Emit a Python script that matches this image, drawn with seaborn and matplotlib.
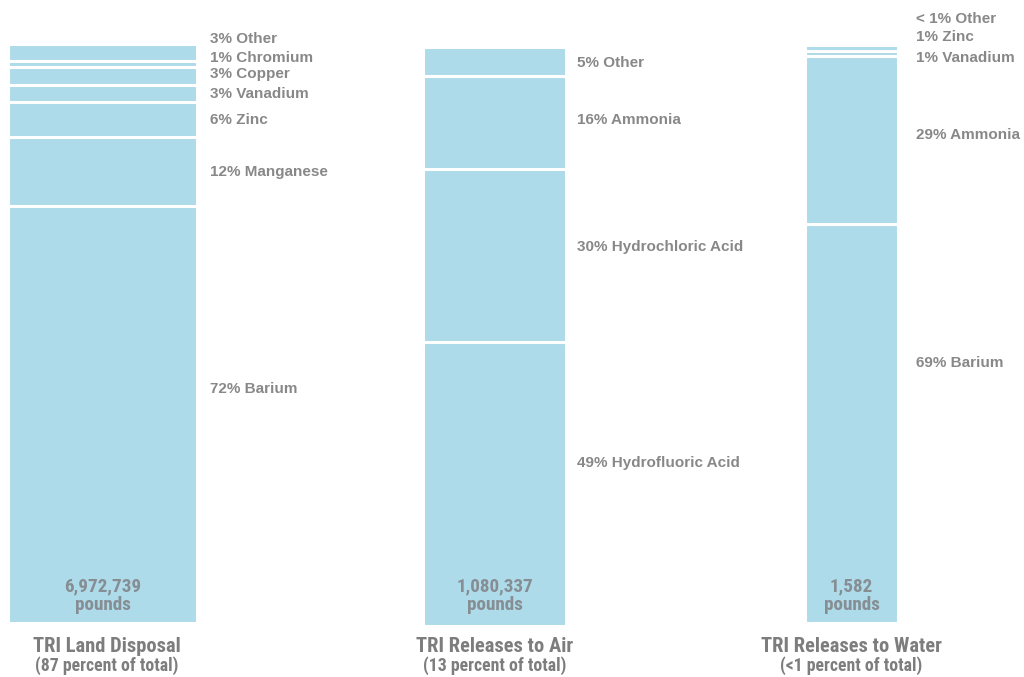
import numpy as np
import pandas as pd
import matplotlib
matplotlib.use("Agg")
import matplotlib.pyplot as plt
import seaborn as sns
from matplotlib import font_manager

sns.set_theme(style="white")

# ---- data -------------------------------------------------------------
release_types = ["TRI Land Disposal", "TRI Releases to Air", "TRI Releases to Water"]
release_shares = ["(87 percent of total)", "(13 percent of total)", "(<1 percent of total)"]
release_pounds = ["6,972,739", "1,080,337", "1,582"]

# chemicals listed from the bottom of each stack to the top
land_chemicals = ["Barium", "Manganese", "Zinc", "Vanadium", "Copper", "Chromium", "Other"]
land_percent = [72, 12, 6, 3, 3, 1, 3]

air_chemicals = ["Hydrofluoric Acid", "Hydrochloric Acid", "Ammonia", "Other"]
air_percent = [49, 30, 16, 5]

water_chemicals = ["Barium", "Ammonia", "Vanadium", "Zinc", "Other"]
water_percent = [69, 29, 1, 1, 0.5]

stacks = [
    (land_chemicals, land_percent),
    (air_chemicals, air_percent),
    (water_chemicals, water_percent),
]

# ---- layout (pixels on a 1024 x 677 canvas) ----------------------------
W, H = 1024, 677
bar_boxes = [  # left, right, top, bottom
    (8, 197, 44, 623),
    (423, 566, 47, 626),
    (805, 898, 42, 623),
]
label_x = [210, 577, 916]
label_baselines = [
    [393, 176, 124, 98, 78, 62, 43],
    [467, 251, 124, 67],
    [367, 139, 62, 41, 23],
]

BAR_COLOR = "#aedbea"
LABEL_COLOR = "#888888"
VALUE_COLOR = "#868d93"
TITLE_COLOR = "#7d7d7d"


def pick_font(candidates):
    for name in candidates:
        try:
            font_manager.findfont(font_manager.FontProperties(family=name),
                                  fallback_to_default=False)
            return name
        except Exception:
            continue
    return "DejaVu Sans"


label_font = pick_font(["Liberation Sans", "Arial", "DejaVu Sans"])
narrow_font = pick_font(["Liberation Sans Narrow", "DejaVu Sans Condensed", "Roboto Condensed", "Liberation Sans"])

fig = plt.figure(figsize=(W / 100, H / 100), dpi=100)
fig.patch.set_facecolor("white")

for (chems, pcts), (l, r, t, b) in zip(stacks, bar_boxes):
    total = float(np.sum(pcts))
    ax = fig.add_axes([l / W, 1 - b / H, (r - l) / W, (b - t) / H])
    df = pd.DataFrame({"chemical": chems, "percent": pcts})
    df["bottom"] = df["percent"].cumsum() - df["percent"]
    for _, row in df.iterrows():
        sns.barplot(
            x=[0.0], y=[row["percent"]], bottom=row["bottom"],
            native_scale=True, orient="x", width=1.0, errorbar=None,
            color=BAR_COLOR, saturation=1, edgecolor="white", linewidth=2.2,
            ax=ax,
        )
    ax.set_xlim(-0.5, 0.5)
    ax.set_ylim(0, total)
    ax.set_axis_off()

# text overlay in pixel coordinates
ov = fig.add_axes([0, 0, 1, 1])
ov.set_xlim(0, W)
ov.set_ylim(H, 0)
ov.set_axis_off()
ov.patch.set_alpha(0)

for i, (chems, pcts) in enumerate(stacks):
    for chem, p, yb in zip(chems, pcts, label_baselines[i]):
        pct_txt = "< 1%" if p < 1 else f"{p:g}%"
        ov.text(label_x[i], yb, f"{pct_txt} {chem}", ha="left", va="baseline",
                fontsize=11, fontweight="bold", color=LABEL_COLOR,
                family=label_font)

    l, r, t, b = bar_boxes[i]
    cx = (l + r) / 2
    ov.text(cx, 591, release_pounds[i], ha="center", va="baseline",
            fontsize=13.8, fontweight="bold", color=VALUE_COLOR, family=narrow_font)
    ov.text(cx, 610, "pounds", ha="center", va="baseline",
            fontsize=13.8, fontweight="bold", color=VALUE_COLOR, family=narrow_font)
    tx = cx + (4 if i == 0 else 0)
    ov.text(tx, 652, release_types[i], ha="center", va="baseline",
            fontsize=14.8, fontweight="bold", color=TITLE_COLOR, family=narrow_font)
    ov.text(tx, 671, release_shares[i], ha="center", va="baseline",
            fontsize=12.8, fontweight="bold", color=TITLE_COLOR, family=narrow_font)

fig.savefig("out.png", dpi=100, facecolor="white")
